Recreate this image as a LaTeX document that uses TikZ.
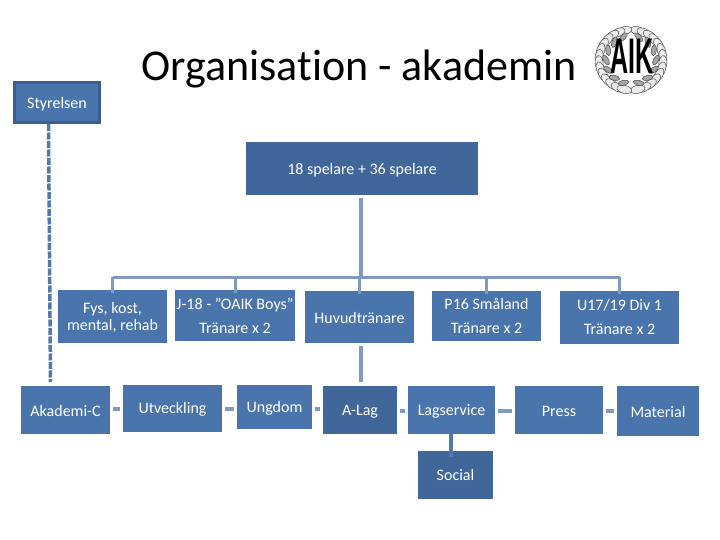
\documentclass[tikz,border=0pt]{standalone}
\usepackage{fontspec}
\setmainfont[Ligatures=NoCommon]{Carlito}
\newfontfamily\logofont{Liberation Sans}
\definecolor{boxblue}{HTML}{4A75AC}
\definecolor{boxdark}{HTML}{41669A}
\definecolor{boxedge}{HTML}{3C5E8E}
\definecolor{linkblue}{HTML}{7F9BC2}
\definecolor{dashblue}{HTML}{4F7AAB}
\usetikzlibrary{shapes.geometric}
\tikzset{
  orgbox/.style={fill=boxblue,text=white,inner sep=0pt,align=center,font=\fontsize{16}{17}\selectfont},
  orgdark/.style={orgbox,fill=boxdark},
  twoline/.style={font=\fontsize{16}{24}\selectfont},
  link/.style={draw=linkblue,line width=3.5pt},
  stub/.style={draw=linkblue,line width=4pt},
  leaf/.style={draw=black!70,line width=.5pt,fill=black!8,ellipse,minimum width=15pt,minimum height=8pt,inner sep=0pt}
}
\newcommand{\lowa}[1]{\raisebox{-1pt}[\height][\depth]{#1}}
\newcommand{\lowb}[1]{\raisebox{-2pt}[\height][\depth]{#1}}
% name, style, x0, y0, x1, y1, text (pixels)
\newcommand{\orgnode}[7]{%
  \pgfmathsetmacro{\cxx}{(#3+#5)/2}\pgfmathsetmacro{\cyy}{(#4+#6)/2}%
  \pgfmathsetmacro{\bww}{#5-#3}\pgfmathsetmacro{\bhh}{#6-#4}%
  \node[#2,minimum width=\bww pt,minimum height=\bhh pt] (#1) at (\cxx,\cyy) {#7};}
\begin{document}
\begin{tikzpicture}[x=1pt,y=-1pt]
\useasboundingbox (0,0) rectangle (720,540);
\fill[white] (0,0) rectangle (720,540);

\node[font=\fontsize{44}{48}\selectfont,text=black,inner sep=0pt] (title) at (359,69) {Organisation - akademin};

\orgnode{styr}{orgbox,draw=boxedge,line width=3pt}{14.5}{82.5}{99.5}{122.5}{\lowb{Styrelsen}}
\orgnode{top}{orgdark}{246}{142}{478}{195}{\lowb{18 spelare + 36 spelare}}

\orgnode{fys}{orgbox}{58}{290}{167}{343}{\lowa{Fys, kost,}\\\lowa{mental, rehab}}
\orgnode{j18}{orgbox,twoline}{175}{290}{295}{341}{J-18 - ”OAIK Boys”\\Tränare x 2}
\orgnode{huvud}{orgbox}{305}{291}{414}{343}{\lowa{Huvudtränare}}
\orgnode{p16}{orgbox,twoline}{432}{291}{541}{341}{P16 Småland\\Tränare x 2}
\orgnode{u17}{orgbox,twoline}{560}{291}{679}{344}{U17/19 Div 1\\Tränare x 2}

\orgnode{akad}{orgbox}{21}{386}{110}{434}{\lowa{Akademi-C}}
\orgnode{utv}{orgbox}{123}{385}{222}{432}{\lowa{Utveckling}}
\orgnode{ung}{orgbox}{237}{385}{312}{429}{\lowa{Ungdom}}
\orgnode{alag}{orgdark}{323}{386}{397}{434}{\lowb{A-Lag}}
\orgnode{lag}{orgbox}{408}{386}{495}{434}{\lowa{Lagservice}}
\orgnode{press}{orgbox}{515}{386}{603}{434}{\lowa{Press}}
\orgnode{mat}{orgbox}{617}{386}{699}{436}{\lowa{Material}}
\orgnode{soc}{orgdark}{418}{451}{493}{499}{Social}

% bracket
\coordinate (bar) at (361,277);
\draw[link] (top.south -| bar) ++(0,3) -- (bar);
\draw[link,line width=3pt] (fys.north |- bar) -- (u17.north |- bar);
\foreach \n in {fys,j18,huvud,p16,u17}
  \draw[link,line width=3pt] (\n.north |- bar) -- ([yshift=-3pt]\n.north);
\draw[link,shorten <=3pt,shorten >=4pt] (huvud.south -| bar) -- (alag.north -| bar);

% horizontal stubs: each level is a named coordinate
\coordinate (sa) at (0,409);
\coordinate (sb) at (0,411);
\foreach \a/\b/\c/\gl/\gr in {akad/utv/sa/3/3,utv/ung/sa/3/3,ung/alag/sa/3/3,alag/lag/sb/3/3,lag/press/sb/3/3,press/mat/sb/3/3}
  \draw[stub,shorten <=\gl pt,shorten >=\gr pt] (\a.east |- \c) -- (\b.west |- \c);

% Lagservice to Social
\coordinate (socin) at (451,457);
\draw[draw=dashblue,line width=3.5pt] (lag.south -| socin) -- (socin);

% Styrelsen to Akademi-C
\coordinate (dashtop) at (48.5,124);
\coordinate (dashbot) at (50.5,382);
\draw[draw=dashblue,line width=3.5pt,dash pattern=on 7pt off 1.5pt] (dashtop) -- (dashbot);

% crest
\begin{scope}[shift={(631,60)}]
  \foreach \a in {-78,-66,...,78}{
    \node[leaf,rotate=90-\a] (lr\a) at (\a:32 and 30) {};
    \node[leaf,rotate=90+\a] (ll\a) at (180-\a:32 and 30) {};
  }
  \foreach \a in {-72,-48,...,72}{
    \node[leaf,rotate=60-\a,fill=black!35,minimum width=11pt,minimum height=5pt] (mr\a) at (\a:25 and 24) {};
    \node[leaf,rotate=120+\a,fill=black!35,minimum width=11pt,minimum height=5pt] (ml\a) at (180-\a:25 and 24) {};
  }
  \node[inner sep=0pt,text=black,font=\logofont\bfseries\fontsize{50}{50}\selectfont,xscale=.5,transform shape] (aik) at (1,-4) {AIK};
\end{scope}
\end{tikzpicture}
\end{document}
